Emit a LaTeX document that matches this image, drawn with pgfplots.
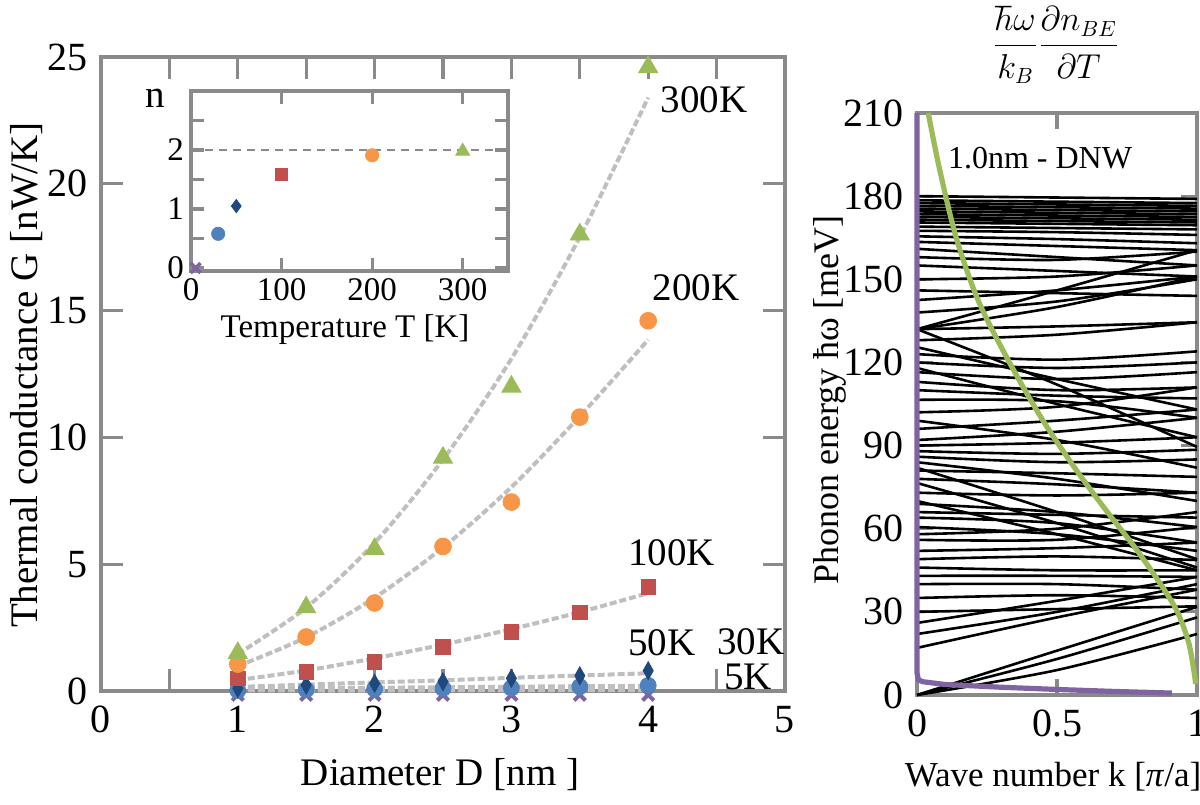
\documentclass[border=0pt]{standalone}
\usepackage{fontspec}
\setmainfont{Liberation Serif}
\usepackage{pgfplots}
\pgfplotsset{compat=1.18}
\definecolor{cgreen}{HTML}{9BBB59}
\definecolor{corange}{HTML}{F79646}
\definecolor{cred}{HTML}{C0504D}
\definecolor{cdblue}{HTML}{1F497D}
\definecolor{clblue}{HTML}{4F81BD}
\definecolor{cpurple}{HTML}{8064A2}
\definecolor{fitgray}{HTML}{BFBFBF}
\definecolor{axgray}{HTML}{8A8A8A}
\pgfplotsset{
  frame/.style={scale only axis, anchor=south west,
    axis line style={draw=axgray,line width=1.6pt},
    every tick/.style={draw=axgray,line width=1.6pt},
    tick align=inside,
    /pgf/number format/assume math mode=true,
    clip=false},
  fit/.style={fitgray, line width=2pt, dash pattern=on 3.5pt off 1.5pt, smooth},
  band/.style={black, line width=1.3pt, smooth, tension=0.5},
}
\newcommand{\band}[3]{\addplot[band] coordinates {(0,#1)(0.5,#2)(1,#3)};}
\begin{document}
\begin{tikzpicture}
\useasboundingbox (0,0) rectangle (600pt,402pt);
% ---------------- main axis
\begin{axis}[frame, at={(50.5pt,56.5pt)}, width=342pt, height=317pt,
  xmin=0, xmax=5, ymin=0, ymax=25,
  xtick={0,0.5,...,5}, xticklabels={0,,1,,2,,3,,4,,5},
  ytick={0,5,...,25}, major tick length=11pt,
  xticklabel style={yshift=-4pt},
  yticklabel style={xshift=-3pt},
  tick label style={font=\fontsize{20}{21}\selectfont}]
\addplot[fit] coordinates {(1,1.46)(1.5,3.29)(2,5.84)(2.5,9.13)(3,13.1)(3.5,17.9)(4,23.4)};
\addplot[fit] coordinates {(1,0.98)(1.5,2.12)(2,3.68)(2.5,5.66)(3,8.04)(3.5,10.83)(4,13.85)};
\addplot[fit] coordinates {(1,0.43)(1.5,0.81)(2,1.29)(2.5,1.83)(3,2.44)(3.5,3.11)(4,3.86)};
\addplot[fit] coordinates {(1,0.16)(1.5,0.25)(2,0.34)(2.5,0.42)(3,0.52)(3.5,0.61)(4,0.70)};
\addplot[fit] coordinates {(1,0.09)(1.5,0.11)(2,0.13)(2.5,0.15)(3,0.17)(3.5,0.19)(4,0.20)};
\addplot[fit] coordinates {(1,0.02)(1.5,0.02)(2,0.02)(2.5,0.03)(3,0.03)(3.5,0.03)(4,0.03)};
% markers
\addplot[only marks, mark=x, mark size=4pt, draw=cpurple, line width=2pt] coordinates {(1,-0.15)(1.5,-0.15)(2,-0.15)(2.5,-0.15)(3,-0.15)(3.5,-0.15)(4,-0.15)};
\addplot[only marks, mark=*, mark size=4pt, draw=clblue, fill=clblue] coordinates {(1,0.02)(1.5,0.05)(2,0.08)(2.5,0.10)(3,0.12)(3.5,0.17)(4,0.22)};
\addplot[only marks, mark=diamond*, mark size=4.5pt, mark options={xscale=0.75}, draw=cdblue, fill=cdblue] coordinates {(1,0.10)(1.5,0.23)(2,0.30)(2.5,0.37)(3,0.50)(3.5,0.60)(4,0.80)};
\addplot[only marks, mark=square*, mark size=3.6pt, draw=cred, fill=cred] coordinates {(1,0.50)(1.5,0.75)(2,1.15)(2.5,1.74)(3,2.33)(3.5,3.10)(4,4.10)};
\addplot[only marks, mark=*, mark size=4.2pt, draw=corange, fill=corange] coordinates {(1,1.06)(1.5,2.13)(2,3.47)(2.5,5.70)(3,7.45)(3.5,10.8)(4,14.6)};
\addplot[only marks, mark=triangle*, mark size=5.5pt, draw=cgreen, fill=cgreen] coordinates {(1,1.5)(1.5,3.3)(2,5.6)(2.5,9.2)(3,12.0)(3.5,18.0)(4,24.6)};
\begin{scope}[every node/.style={font=\fontsize{19.5}{20}\selectfont}]
\node at (axis cs:4.41,23.3) {300K};
\node at (axis cs:4.35,15.9) {200K};
\node at (axis cs:4.17,5.44) {100K};
\node at (axis cs:4.10,1.89) {50K};
\node at (axis cs:4.75,1.95) {30K};
\node at (axis cs:4.73,0.55) {5K};
\end{scope}
\end{axis}
% ---------------- inset
\begin{axis}[frame, at={(95.5pt,266.5pt)}, width=158.5pt, height=90pt,
  xmin=0, xmax=350, ymin=-0.05, ymax=3,
  xtick={0,100,200,300}, ytick={0,0.5,...,2.5}, yticklabels={0,,1,,2,},
  major tick length=6.5pt,
  axis background/.style={fill=white},
  tick label style={font=\fontsize{16.5}{17}\selectfont}]
\addplot[axgray, line width=1pt, dash pattern=on 4pt off 3pt] coordinates {(0,2)(350,2)};
\addplot[only marks, mark=x, mark size=3.5pt, draw=cpurple, line width=1.8pt] coordinates {(5,0)};
\addplot[only marks, mark=*, mark size=3.3pt, draw=clblue, fill=clblue] coordinates {(30,0.58)};
\addplot[only marks, mark=diamond*, mark size=3.3pt, draw=cdblue, fill=cdblue] coordinates {(50,1.05)};
\addplot[only marks, mark=square*, mark size=3pt, draw=cred, fill=cred] coordinates {(100,1.59)};
\addplot[only marks, mark=*, mark size=3.3pt, draw=corange, fill=corange] coordinates {(200,1.91)};
\addplot[only marks, mark=triangle*, mark size=4pt, draw=cgreen, fill=cgreen] coordinates {(300,1.98)};
\end{axis}
% ---------------- right panel
\begin{axis}[frame, at={(458.5pt,54.5pt)}, width=140pt, height=291pt,
  xmin=0, xmax=1, ymin=0, ymax=210,
  xtick={0,0.5,1}, xticklabels={0,0.5,1},
  ytick={0,30,...,210}, major tick length=8pt,
  xticklabel style={yshift=-4pt},
  yticklabel style={xshift=-3pt},
  tick label style={font=\fontsize{20}{21}\selectfont}]
\band{180}{179.5}{179}
\band{178.5}{178}{177.5}
\band{177.5}{177}{176.5}
\band{176.5}{176}{175.5}
\band{175.5}{175}{174.5}
\band{174.5}{174}{173.5}
\band{173.5}{173}{172.5}
\band{172.5}{172}{171.5}
\band{171.5}{171}{170.5}
\band{170.5}{170}{169.5}
\band{169}{168.5}{168}
\band{167.5}{167}{166}
\band{165.5}{164.5}{163}
\band{163.5}{162}{160.5}
\band{161}{158}{155}
\band{158}{157}{160}
\band{155}{153}{151}
\band{150}{151}{155}
\band{146}{145}{144}
\band{142.5}{146}{151}
\band{138}{142}{150}
\band{132}{146}{160.5}
\band{132}{140}{151}
\band{132}{133}{134.5}
\band{132}{112}{89.5}
\band{128}{130}{134.5}
\band{125.5}{114}{103}
\band{123}{121}{124}
\band{120}{118}{120}
\band{118}{105}{93}
\band{116.5}{114}{116.5}
\band{113}{110}{111}
\band{110}{108}{107}
\band{106.5}{106}{100}
\band{102}{104}{111}
\band{99}{92}{82}
\band{96}{99}{103}
\band{92}{95}{100}
\band{90}{91}{93}
\band{88}{87}{88.5}
\band{86}{84}{85}
\band{84}{78}{70}
\band{82}{66}{49}
\band{81}{80}{78.7}
\band{78}{76}{73}
\band{76.5}{62}{46}
\band{73}{72}{73}
\band{70}{58}{45}
\band{69}{66}{60.6}
\band{66}{65}{64}
\band{64}{62}{55}
\band{60.6}{58}{52}
\band{58}{60}{66}
\band{56}{56}{60.6}
\band{52}{53}{55}
\band{49}{50}{48.7}
\band{46}{45}{45}
\band{43}{43}{42.6}
\band{40}{40}{38}
\band{35}{36}{35}
\band{30}{31}{32}
\band{26}{34}{42.6}
\band{22}{30}{40}
\band{17}{28}{38}
\band{0}{16}{31.8}
\band{0}{13}{28}
\band{0}{9}{22}
\addplot[cgreen, line width=2.6pt, smooth] coordinates {(0.04,210)(0.08,190)(0.14,165)(0.22,142)(0.33,120)(0.45,99)(0.57,81)(0.68,66)(0.78,53)(0.87,40)(0.93,30)(0.97,19)(0.99,8)(0.995,4)};
\addplot[cpurple, line width=2.6pt] coordinates {(0,210)(0,8)(0.005,5.5)(0.02,4.8)(0.1,3.8)(0.3,2.8)(0.5,2.0)(0.7,1.3)(0.91,0.7)};
\end{axis}
% ---------------- labels
\node[font=\fontsize{19.5}{20}\selectfont] at (220pt,14.5pt) {Diameter D [nm ]};
\node[font=\fontsize{19.5}{20}\selectfont, rotate=90] at (13.5pt,214.5pt) {Thermal conductance G [nW/K]};
\node[font=\fontsize{19.5}{20}\selectfont] at (77.5pt,353pt) {n};
\node[font=\fontsize{16.5}{17}\selectfont] at (172.5pt,237pt) {Temperature T [K]};
\node[font=\fontsize{17.5}{18}\selectfont] at (526.5pt,13.5pt) {Wave number k [\textit{π}/a]};
\node[font=\fontsize{18}{19}\selectfont, rotate=90] at (415pt,202pt) {Phonon energy ħω [meV]};
\node[font=\fontsize{16}{17}\selectfont] at (528pt,379.5pt) {$\displaystyle\frac{\hbar\omega}{k_B}\frac{\partial n_{BE}}{\partial T}$};
\node[font=\fontsize{16}{17}\selectfont] at (520pt,323pt) {1.0nm - DNW};
\end{tikzpicture}
\end{document}
